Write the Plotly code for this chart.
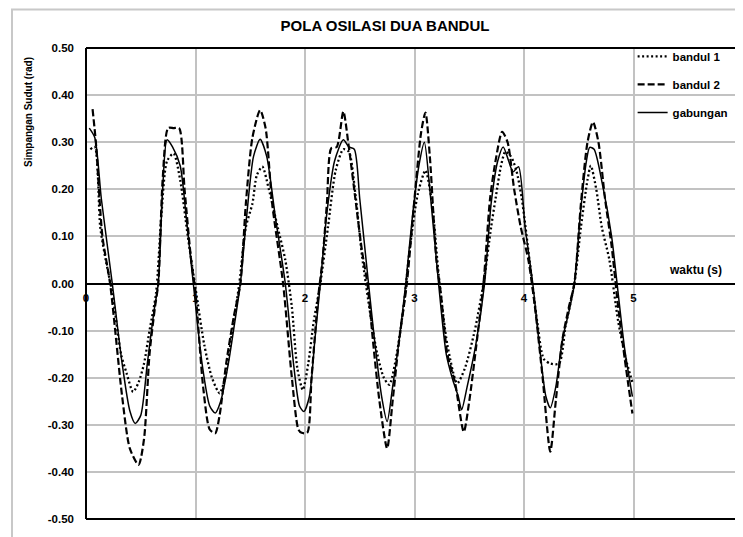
import plotly.graph_objects as go

# ---- data ----
t_b1 = [0.04, 0.08, 0.13, 0.18, 0.24, 0.32, 0.37, 0.43, 0.48, 0.53, 0.58, 0.64, 0.69, 0.74, 0.80, 0.86, 0.93, 1.00,
        1.08, 1.15, 1.22, 1.27, 1.33, 1.40, 1.46, 1.52, 1.56, 1.61, 1.67, 1.75, 1.82, 1.88, 1.93, 1.98, 2.03, 2.08,
        2.14, 2.21, 2.28, 2.35, 2.40, 2.46, 2.52, 2.60, 2.66, 2.72, 2.77, 2.83, 2.90, 2.96, 3.03, 3.10, 3.16, 3.22,
        3.30, 3.39, 3.46, 3.55, 3.63, 3.70, 3.74, 3.79, 3.83, 3.88, 3.93, 3.98, 4.05, 4.12, 4.18, 4.24, 4.32, 4.38,
        4.46, 4.52, 4.58, 4.61, 4.66, 4.71, 4.78, 4.86, 4.93, 4.99]
y_b1 = [0.285, 0.29, 0.12, 0.05, -0.02, -0.15, -0.19, -0.23, -0.21, -0.17, -0.10, -0.02, 0.15, 0.26, 0.276, 0.22, 0.10, -0.01,
        -0.13, -0.20, -0.233, -0.20, -0.11, 0.0, 0.12, 0.17, 0.23, 0.248, 0.20, 0.12, 0.05, -0.05, -0.18, -0.226, -0.17, -0.08,
        0.0, 0.12, 0.24, 0.285, 0.28, 0.19, 0.06, -0.07, -0.15, -0.20, -0.215, -0.16, -0.05, 0.08, 0.19, 0.24, 0.17, 0.02,
        -0.13, -0.212, -0.18, -0.10, 0.0, 0.12, 0.18, 0.25, 0.28, 0.27, 0.24, 0.18, 0.05, -0.08, -0.16, -0.17, -0.17, -0.09,
        0.0, 0.12, 0.22, 0.25, 0.20, 0.12, 0.05, -0.08, -0.16, -0.21]

t_b2 = [0.06, 0.09, 0.15, 0.22, 0.33, 0.40, 0.48, 0.53, 0.58, 0.63, 0.66, 0.70, 0.75, 0.80, 0.85, 0.90, 0.96, 1.00,
        1.07, 1.13, 1.18, 1.22, 1.28, 1.35, 1.41, 1.46, 1.52, 1.59, 1.64, 1.70, 1.80, 1.88, 1.94, 1.97, 2.02, 2.06,
        2.12, 2.16, 2.20, 2.24, 2.29, 2.35, 2.40, 2.46, 2.52, 2.57, 2.62, 2.68, 2.75, 2.80, 2.86, 2.93, 3.00, 3.06,
        3.10, 3.14, 3.20, 3.24, 3.30, 3.37, 3.45, 3.50, 3.56, 3.63, 3.69, 3.74, 3.80, 3.85, 3.91, 3.97, 4.04, 4.10,
        4.17, 4.24, 4.29, 4.35, 4.41, 4.46, 4.52, 4.58, 4.63, 4.68, 4.74, 4.80, 4.86, 4.92, 4.99]
y_b2 = [0.37, 0.30, 0.10, 0.0, -0.24, -0.35, -0.385, -0.33, -0.15, -0.05, 0.0, 0.22, 0.33, 0.33, 0.33, 0.20, 0.05, -0.02,
        -0.22, -0.31, -0.318, -0.28, -0.17, -0.07, 0.0, 0.17, 0.31, 0.368, 0.33, 0.17, 0.0, -0.20, -0.31, -0.317, -0.317, -0.20,
        -0.03, 0.05, 0.17, 0.287, 0.29, 0.365, 0.29, 0.18, 0.07, 0.0, -0.12, -0.25, -0.35, -0.25, -0.12, 0.0, 0.18, 0.32,
        0.363, 0.27, 0.05, -0.02, -0.15, -0.21, -0.315, -0.25, -0.14, 0.0, 0.18, 0.26, 0.322, 0.30, 0.20, 0.12, 0.05, -0.05,
        -0.20, -0.357, -0.25, -0.12, -0.05, 0.0, 0.17, 0.30, 0.343, 0.30, 0.18, 0.08, -0.05, -0.16, -0.276]

t_gab = [0.03, 0.08, 0.14, 0.24, 0.33, 0.40, 0.45, 0.50, 0.56, 0.62, 0.66, 0.70, 0.74, 0.79, 0.86, 0.92, 0.98, 1.06,
         1.13, 1.18, 1.23, 1.30, 1.36, 1.41, 1.47, 1.53, 1.59, 1.65, 1.73, 1.82, 1.90, 1.95, 1.99, 2.04, 2.09, 2.14,
         2.20, 2.27, 2.35, 2.40, 2.45, 2.50, 2.58, 2.64, 2.70, 2.75, 2.80, 2.86, 2.92, 2.98, 3.04, 3.09, 3.14, 3.22,
         3.29, 3.35, 3.40, 3.43, 3.48, 3.56, 3.64, 3.70, 3.76, 3.81, 3.86, 3.90, 3.95, 4.01, 4.08, 4.14, 4.20, 4.24,
         4.29, 4.35, 4.42, 4.46, 4.52, 4.57, 4.60, 4.64, 4.72, 4.80, 4.85, 4.92, 4.99]
y_gab = [0.33, 0.31, 0.18, 0.0, -0.17, -0.27, -0.297, -0.28, -0.17, -0.06, 0.0, 0.20, 0.305, 0.29, 0.25, 0.13, 0.0, -0.17,
         -0.26, -0.275, -0.25, -0.17, -0.08, 0.0, 0.15, 0.27, 0.306, 0.27, 0.14, 0.0, -0.18, -0.26, -0.272, -0.24, -0.12, 0.0,
         0.15, 0.26, 0.305, 0.29, 0.285, 0.18, 0.0, -0.13, -0.24, -0.293, -0.22, -0.12, 0.0, 0.14, 0.25, 0.30, 0.20, 0.0,
         -0.15, -0.205, -0.24, -0.268, -0.22, -0.13, 0.0, 0.17, 0.26, 0.29, 0.26, 0.237, 0.248, 0.12, 0.0, -0.13, -0.24, -0.264,
         -0.22, -0.12, -0.05, 0.0, 0.16, 0.26, 0.289, 0.285, 0.206, 0.10, 0.0, -0.14, -0.24]

y_ticks = [-0.5, -0.4, -0.3, -0.2, -0.1, 0.0, 0.1, 0.2, 0.3, 0.4, 0.5]
y_labels = ["-0.50", "-0.40", "-0.30", "-0.20", "-0.10", "0.00", "0.10", "0.20", "0.30", "0.40", "0.50"]
x_ticks = [0, 1, 2, 3, 4, 5, 6]

FONT = "Liberation Sans, Arial, sans-serif"
PW, PH = 657, 471  # plot area size in px

fig = go.Figure()
fig.add_trace(go.Scatter(x=t_b1, y=y_b1, mode="lines", name="bandul 1", legendgroup="a",
                         line=dict(color="black", width=2.3, dash="2px,2.5px", shape="spline", smoothing=0.7)))
fig.add_trace(go.Scatter(x=t_b2, y=y_b2, mode="lines", name="bandul 2", legendgroup="b",
                         line=dict(color="black", width=2.2, dash="7px,3px", shape="spline", smoothing=0.7)))
fig.add_trace(go.Scatter(x=t_gab, y=y_gab, mode="lines", name="gabungan", legendgroup="c",
                         line=dict(color="black", width=1.5, shape="spline", smoothing=0.7)))

fig.update_layout(
    width=735, height=529,
    margin=dict(l=78, r=0, t=40, b=18, autoexpand=False),
    paper_bgcolor="white", plot_bgcolor="white",
    font=dict(family=FONT, color="black"),
    title=dict(text="<b>POLA OSILASI DUA BANDUL</b>", x=377 / 735, xanchor="center",
               y=1 - 18 / 529, yanchor="middle", font=dict(size=15, family=FONT)),
    xaxis=dict(range=[0, 6], tickvals=x_ticks, showgrid=True, gridcolor="#c2c2c2", gridwidth=1.5,
               zeroline=False, showline=False, anchor="free", position=0.5, ticks="",
               ticklabeloverflow="allow",
               tickfont=dict(size=11.5, family=FONT, weight="bold"), ticklabelstandoff=6),
    yaxis=dict(range=[-0.5, 0.5], tickvals=y_ticks, ticktext=y_labels, showgrid=True, gridcolor="#c2c2c2",
               gridwidth=1.5, zeroline=True, zerolinecolor="black", zerolinewidth=2, showline=False,
               ticks="", tickfont=dict(size=11.5, family=FONT, weight="bold"), ticklabelstandoff=11),
    legend=dict(x=0.832, y=1.013, xanchor="left", yanchor="top", bgcolor="rgba(0,0,0,0)",
                font=dict(size=11.5, family=FONT, weight="bold"), tracegroupgap=9, itemwidth=30),
    showlegend=True,
)

# plot border (left, top, bottom) and outer chart frame
fig.add_shape(type="line", xref="paper", yref="paper", x0=0, x1=0, y0=0, y1=1, line=dict(color="black", width=2))
fig.add_shape(type="line", xref="paper", yref="paper", x0=0, x1=1, y0=1, y1=1, line=dict(color="black", width=2))
fig.add_shape(type="line", xref="paper", yref="paper", x0=0, x1=1, y0=0, y1=0, line=dict(color="black", width=2))
fig.add_shape(type="line", xref="paper", yref="paper", x0=-74 / PW, x1=-74 / PW, y0=-0.1, y1=1 + 38.5 / PH,
              line=dict(color="#c8c8c8", width=2))
fig.add_shape(type="line", xref="paper", yref="paper", x0=-75 / PW, x1=1.05, y0=1 + 38.5 / PH, y1=1 + 38.5 / PH,
              line=dict(color="#c8c8c8", width=2))

fig.add_annotation(text="<b>Simpangan Sudut (rad)</b>", xref="paper", yref="paper",
                   x=-58 / PW, y=1 - 7 / PH, xanchor="center", yanchor="top", textangle=-90,
                   showarrow=False, font=dict(size=10, family=FONT))
fig.add_annotation(text="<b>waktu (s)</b>", xref="x", yref="y", x=5.57, y=0.0, yshift=13.5,
                   xanchor="center", yanchor="middle", showarrow=False, font=dict(size=12, family=FONT))

fig.write_html("out.html")
